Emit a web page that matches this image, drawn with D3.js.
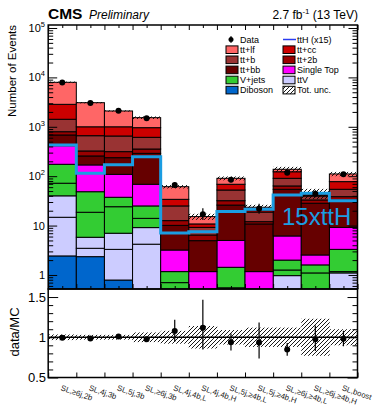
<!DOCTYPE html>
<html>
<head>
<meta charset="utf-8">
<script src="https://cdn.jsdelivr.net/npm/d3@7"></script>
<style>
  body { margin: 0; background: #fff; }
  svg { display: block; font-family: "Liberation Sans", Arial, Helvetica, sans-serif; }
</style>
</head>
<body>
<svg id="chart" width="377" height="408"></svg>
<script>
// ---- categories (analysis bins) ----
const categories = ["SL,≥6j,2b", "SL,4j,3b", "SL,5j,3b", "SL,≥6j,3b", "SL,4j,4b,L", "SL,4j,4b,H",
                    "SL,5j,≥4b,L", "SL,5j,≥4b,H", "SL,≥6j,≥4b,L", "SL,≥6j,≥4b,H", "SL,boost"];

// ---- background yields per bin ----
const diboson   = [2.43, 2.35, 0.79, 0.30, 0.05, 0.02, 0.01, 0.01, 0.05, 0.05, 0.05];
const ttZ       = [12.3, 1.12, 2.51, 3.9, 0.15, 0.06, 0.04, 0.04, 0.35, 0.10, 0.45];
const ttW       = [25.3, 2.33, 3.7, 4.9, 0.15, 0.07, 0.05, 0.05, 0.57, 0.15, 0.60];
const zjets     = [32, 12.8, 17.1, 4.9, 0.35, 0.05, 0.45, 0.10, 0.29, 0.80, 0.07];
const wjets     = [102, 29.9, 13.3, 11, 0.47, 0.10, 0.88, 0.15, 0.74, 0.50, 2.13];
const singleTop = [240, 120.5, 71.6, 43.6, 2.03, 0.87, 3.57, 0.82, 4.16, 0.94, 5.9];
const ttbb      = [269, 88, 128, 221.4, 6.9, 3.78, 21, 9.63, 48.1, 25.8, 23.8];
const tt2b      = [112, 67, 77, 65, 2.5, 1.5, 5.9, 1.2, 9.2, 4.7, 5.5];
const ttb       = [625, 336, 337, 257, 12.4, 2.75, 20.6, 6.8, 27.1, 6.7, 15.8];
const ttcc      = [1430, 340, 349, 348, 9, 1.6, 16.1, 1.9, 32.4, 2.3, 23.3];
const ttlf      = [5100, 2075, 1090, 570, 27.3, 4.4, 22, 2.8, 15, 3, 33.4];

// ---- signal (drawn scaled by 15) ----
const ttH = [28.5, 7.6, 11.3, 16.5, 0.47, 0.50, 1.29, 1.43, 2.77, 3.0, 2.13];
const ttHScale = 15;

// ---- observed data and its errors ----
const dataObs     = [7912, 3029, 2111, 1492, 66, 17, 85, 22, 117, 44, 109];
const dataErrUp   = [89, 55, 46, 39, 8.6, 5.3, 9.8, 5.8, 11.3, 7.7, 11];
const dataErrDown = [89, 55, 46, 39, 8.1, 4.1, 9.2, 4.7, 10.8, 6.6, 10.4];

// ---- relative total uncertainty of the prediction ----
const totUnc = [0.035, 0.03, 0.03, 0.06, 0.08, 0.14, 0.09, 0.12, 0.12, 0.23, 0.10];

// ---- y axis tick labels ----
const mainMajorTicks = [1, 10, 100, 1e3, 1e4, 1e5];
const ratioTicks = [0.5, 1, 1.5];

// stack definition, bottom to top
const layers = [
  { key: "diboson", values: diboson, color: "#0066cc" },
  { key: "ttZ", values: ttZ, color: "#ccccff" },
  { key: "ttW", values: ttW, color: "#ccccff" },
  { key: "zjets", values: zjets, color: "#33cc33" },
  { key: "wjets", values: wjets, color: "#33cc33" },
  { key: "singleTop", values: singleTop, color: "#ff00ff" },
  { key: "ttbb", values: ttbb, color: "#660000" },
  { key: "tt2b", values: tt2b, color: "#990000" },
  { key: "ttb", values: ttb, color: "#993333" },
  { key: "ttcc", values: ttcc, color: "#cc0000" },
  { key: "ttlf", values: ttlf, color: "#ff6666" }
];

const table = categories.map((c, i) => {
  const row = { cat: c, i };
  layers.forEach(l => row[l.key] = l.values[i]);
  return row;
});
const stacked = d3.stack().keys(layers.map(l => l.key))(table);
const totals = table.map((r, i) => stacked[stacked.length - 1][i][1]);

// ---- geometry ----
const X0 = 48.2, X1 = 357.5;
const MAIN_TOP = 25, MAIN_BOT = 289;
const RAT_TOP = 289, RAT_BOT = 377.5;

const svg = d3.select("#chart");
const x = d3.scaleBand().domain(categories).range([X0, X1]).padding(0);
const xi = d3.scaleLinear().domain([0, categories.length]).range([X0, X1]);
const y = d3.scaleLog().domain([0.52, 1.15e5]).range([MAIN_BOT, MAIN_TOP]);
const yr = d3.scaleLinear().domain([0.5, 1.6]).range([RAT_BOT, RAT_TOP]);

const defs = svg.append("defs");
defs.append("clipPath").attr("id", "clipMain")
  .append("rect").attr("x", X0).attr("y", MAIN_TOP).attr("width", X1 - X0).attr("height", MAIN_BOT - MAIN_TOP);
defs.append("clipPath").attr("id", "clipRatio")
  .append("rect").attr("x", X0).attr("y", RAT_TOP).attr("width", X1 - X0).attr("height", RAT_BOT - RAT_TOP);
const pat = defs.append("pattern").attr("id", "hatch")
  .attr("patternUnits", "userSpaceOnUse").attr("width", 4).attr("height", 4);
pat.append("path").attr("d", "M-1,1 l2,-2 M0,4 l4,-4 M3,5 l2,-2")
  .attr("stroke", "#000").attr("stroke-width", 0.9);

// ---- stacked histograms ----
const gMain = svg.append("g").attr("clip-path", "url(#clipMain)");
const colorOf = Object.fromEntries(layers.map(l => [l.key, l.color]));
stacked.forEach(series => {
  gMain.append("g").selectAll("rect").data(series).join("rect")
    .attr("x", d => x(d.data.cat))
    .attr("width", x.bandwidth())
    .attr("y", d => y(d[1]))
    .attr("height", d => Math.max(0, y(Math.max(d[0], 1e-3)) - y(d[1])))
    .attr("fill", colorOf[series.key])
    .attr("stroke", "#000").attr("stroke-width", 1);
});

// uncertainty band on the total prediction
gMain.append("g").selectAll("rect").data(totals).join("rect")
  .attr("x", (d, i) => x(categories[i]))
  .attr("width", x.bandwidth())
  .attr("y", (d, i) => y(d * (1 + totUnc[i])))
  .attr("height", (d, i) => y(d * (1 - totUnc[i])) - y(d * (1 + totUnc[i])))
  .attr("fill", "url(#hatch)");

// scaled ttH as a step line
const ttHColor = "#1b9de2";
const stepPts = categories.map((c, i) => [x(c), y(ttH[i] * ttHScale)]);
stepPts.push([X1, y(ttH[ttH.length - 1] * ttHScale)]);
gMain.append("path")
  .attr("d", d3.line().curve(d3.curveStepAfter)(stepPts))
  .attr("fill", "none").attr("stroke", ttHColor).attr("stroke-width", 3);

svg.append("text").attr("x", 282).attr("y", 225)
  .attr("font-size", 24).attr("fill", ttHColor).text("15xttH");

// data points
const gData = svg.append("g");
categories.forEach((c, i) => {
  const cx = x(c) + x.bandwidth() / 2;
  gData.append("line").attr("x1", cx).attr("x2", cx)
    .attr("y1", y(dataObs[i] + dataErrUp[i])).attr("y2", y(dataObs[i] - dataErrDown[i]))
    .attr("stroke", "#000").attr("stroke-width", 1.2);
  gData.append("circle").attr("cx", cx).attr("cy", y(dataObs[i])).attr("r", 3).attr("fill", "#000");
});

// ---- main axes ----
const minorTicks = [];
for (let e = -1; e <= 4; e++) for (let m = 1; m <= 9; m++) {
  const v = m * Math.pow(10, e);
  if (m !== 1 && v > 0.52 && v < 1.15e5) minorTicks.push(v);
}
svg.append("g").attr("transform", `translate(${X0},0)`)
  .call(d3.axisLeft(y).tickValues(mainMajorTicks).tickSize(-9).tickFormat(""));
svg.append("g").attr("transform", `translate(${X0},0)`)
  .call(d3.axisLeft(y).tickValues(minorTicks).tickSize(-5).tickFormat(""));
svg.append("g").attr("transform", `translate(${X1},0)`)
  .call(d3.axisRight(y).tickValues(mainMajorTicks).tickSize(-9).tickFormat(""));
svg.append("g").attr("transform", `translate(${X1},0)`)
  .call(d3.axisRight(y).tickValues(minorTicks).tickSize(-5).tickFormat(""));

const edgeTicks = d3.range(0, categories.length + 1);
const centerTicks = d3.range(0.5, categories.length, 1);
[[MAIN_BOT, d3.axisBottom], [MAIN_TOP, d3.axisTop]].forEach(([yy, ax]) => {
  svg.append("g").attr("transform", `translate(0,${yy})`)
    .call(ax(xi).tickValues(edgeTicks).tickSize(-5).tickFormat(""));
  svg.append("g").attr("transform", `translate(0,${yy})`)
    .call(ax(xi).tickValues(centerTicks).tickSize(-3).tickFormat(""));
});

svg.selectAll(".domain").remove();

// y tick labels with powers of ten
const gLab = svg.append("g").attr("font-size", 11).attr("text-anchor", "end");
mainMajorTicks.forEach(v => {
  const e = Math.round(Math.log10(v));
  const t = gLab.append("text").attr("x", 45).attr("y", y(v) + 4);
  if (e <= 1) {
    t.text(e === 0 ? "1" : "10");
  } else {
    t.append("tspan").text("10");
    t.append("tspan").attr("font-size", 7.5).attr("dy", -5).text(String(e));
  }
});

svg.append("text").attr("transform", "translate(16,25) rotate(-90)")
  .attr("text-anchor", "end").attr("font-size", 11.5).text("Number of Events");

// ---- ratio panel ----
const gRat = svg.append("g").attr("clip-path", "url(#clipRatio)");
gRat.append("g").selectAll("rect").data(totUnc).join("rect")
  .attr("x", (d, i) => x(categories[i]))
  .attr("width", x.bandwidth() + 0.3)
  .attr("y", d => yr(1 + d))
  .attr("height", d => yr(1 - d) - yr(1 + d))
  .attr("fill", "url(#hatch)");
gRat.append("line").attr("x1", X0).attr("x2", X1).attr("y1", yr(1)).attr("y2", yr(1))
  .attr("stroke", "#000").attr("stroke-width", 1.3);

categories.forEach((c, i) => {
  const cx = x(c) + x.bandwidth() / 2;
  const r = dataObs[i] / totals[i];
  const rUp = (dataObs[i] + dataErrUp[i]) / totals[i];
  const rDn = (dataObs[i] - dataErrDown[i]) / totals[i];
  gRat.append("line").attr("x1", cx).attr("x2", cx).attr("y1", yr(rUp)).attr("y2", yr(rDn))
    .attr("stroke", "#000").attr("stroke-width", 1.2);
  gRat.append("circle").attr("cx", cx).attr("cy", yr(r)).attr("r", 3).attr("fill", "#000");
});

const ratioMinor = [0.6, 0.7, 0.8, 0.9, 1.1, 1.2, 1.3, 1.4];
svg.append("g").attr("transform", `translate(${X0},0)`)
  .call(d3.axisLeft(yr).tickValues(ratioTicks).tickSize(-10).tickFormat(""));
svg.append("g").attr("transform", `translate(${X0},0)`)
  .call(d3.axisLeft(yr).tickValues(ratioMinor).tickSize(-5).tickFormat(""));
svg.append("g").attr("transform", `translate(${X1},0)`)
  .call(d3.axisRight(yr).tickValues(ratioTicks).tickSize(-10).tickFormat(""));
svg.append("g").attr("transform", `translate(${X1},0)`)
  .call(d3.axisRight(yr).tickValues(ratioMinor).tickSize(-5).tickFormat(""));
svg.append("g").attr("transform", `translate(0,${RAT_BOT})`)
  .call(d3.axisBottom(xi).tickValues(edgeTicks).tickSize(-5).tickFormat(""));
svg.selectAll(".domain").remove();

const gRLab = svg.append("g").attr("font-size", 13).attr("text-anchor", "end");
ratioTicks.forEach(v => {
  gRLab.append("text").attr("x", 46).attr("y", yr(v) + 4.5).text(String(v));
});
svg.append("text").attr("transform", "translate(19,332) rotate(-90)")
  .attr("text-anchor", "middle").attr("font-size", 13).text("data/MC");

// category labels, tilted
svg.append("g").selectAll("text").data(categories).join("text")
  .attr("transform", d => `translate(${x(d) + x.bandwidth() / 2 - 2},390) rotate(19)`)
  .attr("font-size", 7.8).attr("fill", "#222").text(d => d);

// frames
svg.append("rect").attr("x", X0).attr("y", MAIN_TOP).attr("width", X1 - X0).attr("height", MAIN_BOT - MAIN_TOP)
  .attr("fill", "none").attr("stroke", "#000").attr("stroke-width", 1.5);
svg.append("rect").attr("x", X0).attr("y", RAT_TOP).attr("width", X1 - X0).attr("height", RAT_BOT - RAT_TOP)
  .attr("fill", "none").attr("stroke", "#000").attr("stroke-width", 1.5);

// ---- legend ----
const legendItems = [
  { label: "Data", type: "data", col: 0, row: 0 },
  { label: "ttH (x15)", type: "line", color: "#2a3cf0", col: 1, row: 0 },
  { label: "tt+lf", type: "box", color: "#ff6666", col: 0, row: 1 },
  { label: "tt+cc", type: "box", color: "#cc0000", col: 1, row: 1 },
  { label: "tt+b", type: "box", color: "#993333", col: 0, row: 2 },
  { label: "tt+2b", type: "box", color: "#990000", col: 1, row: 2 },
  { label: "tt+bb", type: "box", color: "#660000", col: 0, row: 3 },
  { label: "Single Top", type: "box", color: "#ff00ff", col: 1, row: 3 },
  { label: "V+jets", type: "box", color: "#33cc33", col: 0, row: 4 },
  { label: "ttV", type: "box", color: "#ccccff", col: 1, row: 4 },
  { label: "Diboson", type: "box", color: "#0066cc", col: 0, row: 5 },
  { label: "Tot. unc.", type: "hatch", col: 1, row: 5 }
];
const gLeg = svg.append("g").attr("font-size", 9);
legendItems.forEach(it => {
  const bx = it.col === 0 ? 226 : 283;
  const cy = 39.5 + it.row * 10.1;
  if (it.type === "data") {
    gLeg.append("line").attr("x1", bx + 5).attr("x2", bx + 5).attr("y1", cy - 3.5).attr("y2", cy + 3.5)
      .attr("stroke", "#000").attr("stroke-width", 1);
    gLeg.append("circle").attr("cx", bx + 5).attr("cy", cy).attr("r", 2.5).attr("fill", "#000");
  } else if (it.type === "line") {
    gLeg.append("line").attr("x1", bx).attr("x2", bx + 13).attr("y1", cy).attr("y2", cy)
      .attr("stroke", it.color).attr("stroke-width", 1.5);
  } else {
    gLeg.append("rect").attr("x", bx).attr("y", cy - 3.7).attr("width", 12).attr("height", 7.6)
      .attr("fill", it.type === "hatch" ? "url(#hatch)" : it.color)
      .attr("stroke", "#000").attr("stroke-width", 1);
  }
  gLeg.append("text").attr("x", bx + 14).attr("y", cy + 3.2).text(it.label);
});

// ---- header ----
svg.append("text").attr("x", 48).attr("y", 18.5).attr("font-size", 15.5).attr("font-weight", "bold").text("CMS");
svg.append("text").attr("x", 89).attr("y", 18.5).attr("font-size", 12).attr("font-style", "italic").text("Preliminary");
const lumi = svg.append("text").attr("x", 358).attr("y", 18.5).attr("font-size", 12).attr("text-anchor", "end");
lumi.append("tspan").text("2.7 fb");
lumi.append("tspan").attr("font-size", 8).attr("dy", -5).text("-1");
lumi.append("tspan").attr("dy", 5).text(" (13 TeV)");
</script>
</body>
</html>
